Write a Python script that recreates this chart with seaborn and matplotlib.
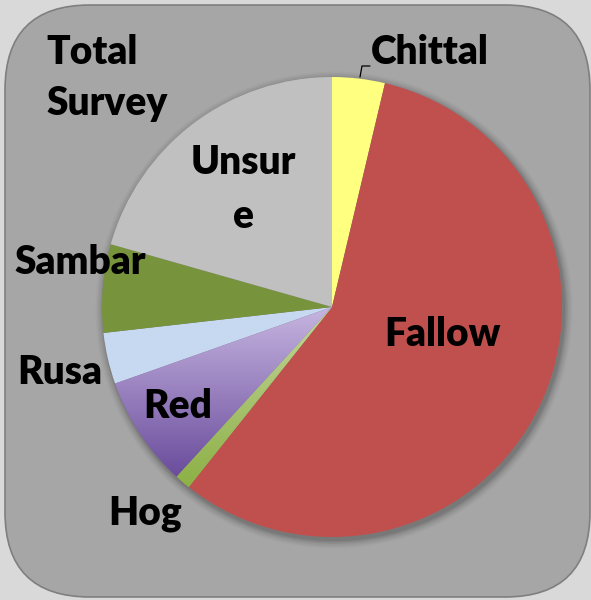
import numpy as np
import matplotlib
matplotlib.use("Agg")
import matplotlib.pyplot as plt
import seaborn as sns
from matplotlib.patches import FancyBboxPatch, Circle
from matplotlib.colors import LinearSegmentedColormap

# Share of total survey by species (clockwise from top)
species = ["Chittal", "Fallow", "Hog", "Red", "Rusa", "Sambar", "Unsure"]
shares = [3.7, 57.0, 1.1, 7.8, 3.6, 6.2, 20.6]
colours = ["#FFFF80", "#C0504D", "#9BBB59", "#8064A2", "#C6D9F1", "#77933C", "#C0C0C0"]

sns.set_theme(style="white")
plt.rcParams["font.family"] = ["Lato", "DejaVu Sans"]

fig = plt.figure(figsize=(5.91, 6.0), dpi=100)
fig.patch.set_facecolor("#D9D9D9")
ax = fig.add_axes([0, 0, 1, 1])
ax.set_xlim(0, 591)
ax.set_ylim(0, 600)
ax.set_aspect("equal")
ax.axis("off")

# rounded grey panel
panel = FancyBboxPatch((5 + 85, 3 + 85), 585 - 170, 592 - 170,
                       boxstyle="round,pad=85", facecolor="#A6A6A6",
                       edgecolor="#7F7F7F", linewidth=1.2, zorder=0)
ax.add_patch(panel)

cx, cy, r = 332, 293, 230

# soft shadow under the pie
for i, a in enumerate(np.linspace(0.08, 0.02, 6)):
    ax.add_patch(Circle((cx + 2, cy - 3), r + 1 + i * 1.5, facecolor="black",
                        alpha=a, edgecolor="none", zorder=1))

wedges, _ = ax.pie(shares, colors=colours, startangle=90, counterclock=False,
                   center=(cx, cy), radius=r, frame=True,
                   wedgeprops=dict(linewidth=0, zorder=2))
ax.set_xlim(0, 591)
ax.set_ylim(0, 600)
ax.axis("off")

# vertical gradients on Red and Hog wedges
grads = {"Red": ("#C6B5E0", "#6A4C9C"), "Hog": ("#C3D69B", "#8DB046")}
for name, (top, bot) in grads.items():
    w = wedges[species.index(name)]
    cmap = LinearSegmentedColormap.from_list(name, [bot, top])
    ext = w.get_path().get_extents()
    grad = np.linspace(0, 1, 256).reshape(-1, 1)
    im = ax.imshow(grad, cmap=cmap, origin="lower", aspect="auto",
                   extent=(ext.x0, ext.x1, ext.y0, ext.y1), zorder=3)
    im.set_clip_path(w)
ax.set_xlim(0, 591)
ax.set_ylim(0, 600)

fs = 28
lab = dict(fontsize=fs, fontweight="heavy", color="black", ha="center", va="center", zorder=5)
ax.text(430, 600 - 53, "Chittal", **lab)
ax.text(442, 600 - 335, "Fallow", **lab)
ax.text(145, 600 - 514, "Hog", **lab)
ax.text(178, 600 - 406, "Red", **lab)
ax.text(60, 600 - 372, "Rusa", **lab)
ax.text(80, 600 - 263, "Sambar", **lab)
ax.text(243, 600 - 163, "Unsur", **lab)
ax.text(243, 600 - 217, "e", **lab)
left = dict(lab, ha="left")
ax.text(46, 600 - 53, "Total", **left)
ax.text(46, 600 - 103, "Survey", **left)

# leader line for Chittal
ax.plot([360, 362, 370], [600 - 77, 600 - 66, 600 - 66], color="black", lw=0.9, zorder=5)

fig.savefig("out.png", dpi=100, facecolor=fig.get_facecolor())
